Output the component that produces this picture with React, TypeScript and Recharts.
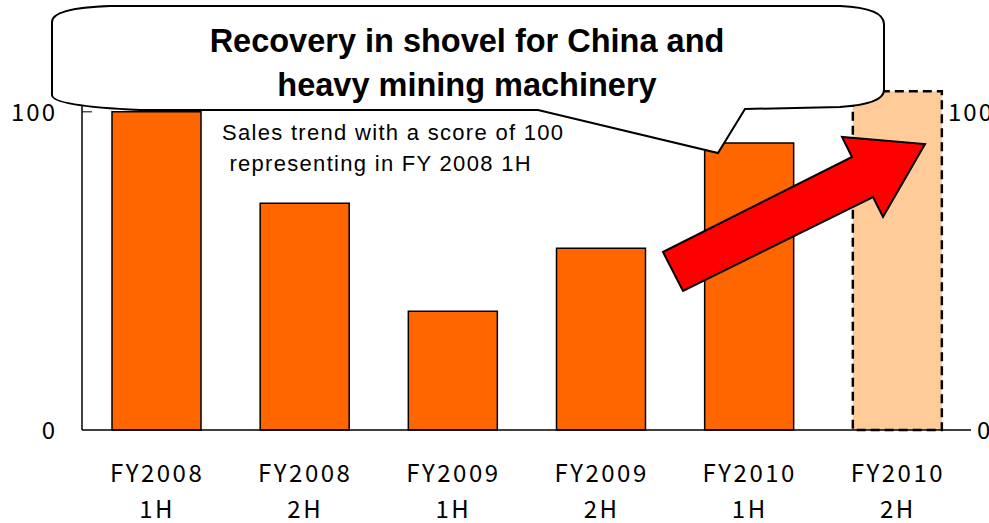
import React from 'react';
import { ComposedChart, Bar, Line, Cell, XAxis, YAxis } from 'recharts';

// sales index, FY2008 1H = 100
const years = ['FY2008', 'FY2008', 'FY2009', 'FY2009', 'FY2010', 'FY2010'];
const halves = ['1H', '2H', '1H', '2H', '1H', '2H'];
const salesIndex = [100, 71.3, 37.3, 57.1, 90.2, 106.5];
const forecast = [false, false, false, false, false, true];
const yTicks = [0, 100];

const titleLines = ['Recovery in shovel for China and', 'heavy mining machinery'];
const noteLines = ['Sales trend with a score of 100', ' representing in FY 2008 1H'];

const data = years.map((y, i) => ({
  period: y + ' ' + halves[i],
  value: salesIndex[i],
}));

const labelFont = '"Noto Sans CJK JP", "Liberation Sans", sans-serif';

const XTick = (props: any) => {
  const { x, y, index } = props;
  return (
    <g>
      <text x={x + 1} y={y + 52} textAnchor="middle" fontSize={24} letterSpacing={2.5} fill="#000" fontFamily={labelFont}>
        {years[index]}
      </text>
      <text x={x + 1} y={y + 88} textAnchor="middle" fontSize={24} letterSpacing={2.5} fill="#000" fontFamily={labelFont}>
        {halves[index]}
      </text>
    </g>
  );
};

const LeftTick = (props: any) => {
  const { x, y, payload } = props;
  return (
    <g>
      {payload.value !== 0 && <line x1={x + 25} x2={x + 35} y1={y} y2={y} stroke="#000" strokeWidth={1} />}
      <text x={x} y={y + 9} textAnchor="end" fontSize={24} letterSpacing={2} fill="#000" fontFamily={labelFont}>
        {payload.value}
      </text>
    </g>
  );
};

const RightTick = (props: any) => {
  const { x, y, payload } = props;
  const shift = payload.value === 100 ? -29 : 0;
  return (
    <text x={x + shift} y={y + 9} textAnchor="start" fontSize={24} letterSpacing={2} fill="#000" fontFamily={labelFont}>
      {payload.value}
    </text>
  );
};

const App = () => {
  return (
    <div style={{ position: 'absolute', left: 0, top: 0, width: 989, height: 523, background: '#fff' }}>
      <ComposedChart width={989} height={523} data={data} margin={{ top: 80, right: 0, bottom: 0, left: 0 }}>
        <XAxis
          dataKey="period"
          height={93}
          tick={<XTick />}
          tickLine={false}
          tickSize={0}
          tickMargin={0}
          axisLine={{ stroke: '#000', strokeWidth: 1.5 }}
          interval={0}
        />
        <YAxis
          yAxisId="left"
          width={82}
          domain={[0, 110]}
          ticks={yTicks}
          tick={<LeftTick />}
          tickLine={false}
          tickSize={0}
          tickMargin={25}
          axisLine={{ stroke: '#000', strokeWidth: 1.5 }}
        />
        <YAxis
          yAxisId="right"
          orientation="right"
          width={18}
          domain={[0, 110]}
          ticks={yTicks}
          tick={<RightTick />}
          tickLine={false}
          tickSize={0}
          tickMargin={6}
          axisLine={false}
        />
        <Bar dataKey="value" yAxisId="left" barSize={89} isAnimationActive={false}>
          {data.map((d, i) => (
            <Cell
              key={d.period}
              fill={forecast[i] ? '#FFCC99' : '#FF6600'}
              stroke="#000"
              strokeWidth={forecast[i] ? 2.5 : 1.5}
              strokeDasharray={forecast[i] ? '9 5' : undefined}
            />
          ))}
        </Bar>
        {/* invisible series so the right-hand axis is drawn */}
        <Line dataKey="value" yAxisId="right" stroke="none" dot={false} activeDot={false} legendType="none" isAnimationActive={false} />
      </ComposedChart>

      <svg width={989} height={523} style={{ position: 'absolute', left: 0, top: 0, pointerEvents: 'none' }}>
        {/* callout balloon */}
        <path
          d="M 110 6 L 840 6 Q 884 8 884 24 L 884 90 Q 884 104 840 107 L 745 109 L 718 153 L 538 110 L 140 110 Q 52 106 52 95 L 52 22 Q 52 8 110 6 Z"
          fill="#fff"
          stroke="#000"
          strokeWidth={2}
        />
        {titleLines.map((t, i) => (
          <text
            key={t}
            x={467}
            y={52 + i * 44}
            textAnchor="middle"
            fontSize={32.5}
            fontWeight="bold"
            fontFamily='"Liberation Sans", Arial, sans-serif'
            fill="#000"
          >
            {t}
          </text>
        ))}
        {noteLines.map((t, i) => (
          <text
            key={t}
            x={222}
            y={140 + i * 31}
            fontSize={22}
            letterSpacing={1.3}
            fontFamily='"Liberation Sans", Arial, sans-serif'
            fill="#000"
            style={{ whiteSpace: 'pre' }}
          >
            {t}
          </text>
        ))}
        {/* growth arrow */}
        <path
          d="M 663 252 L 852 157 L 842 137 L 925 144 L 883 217 L 873 197 L 683 291 Z"
          fill="#FF0000"
          stroke="#000"
          strokeWidth={2}
          strokeLinejoin="miter"
        />
      </svg>
    </div>
  );
};

export default App;
